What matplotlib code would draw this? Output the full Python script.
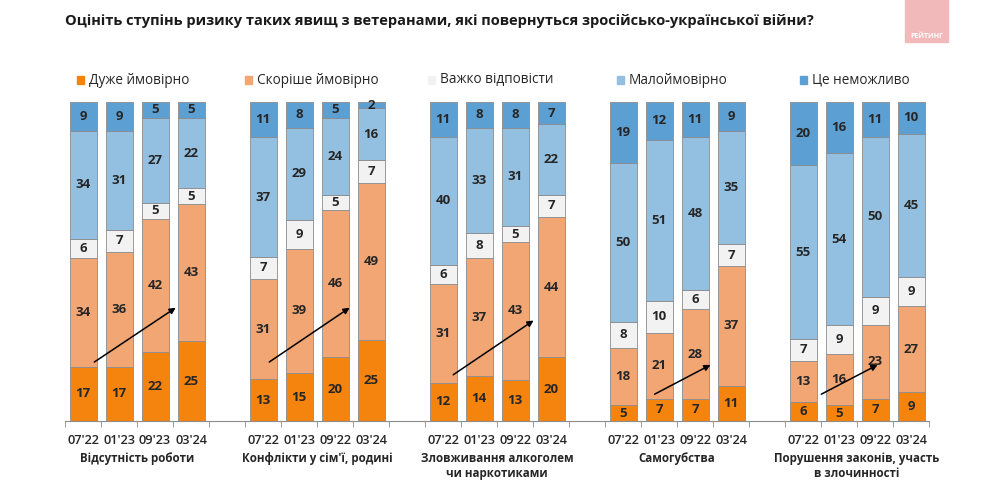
import matplotlib.pyplot as plt
import matplotlib.transforms as mtransforms
from matplotlib.patches import Rectangle
import numpy as np

plt.rcParams['font.family'] = ['Open Sans', 'DejaVu Sans']

title = "Оцініть ступінь ризику таких явищ з ветеранами, які повернуться зросійсько-української війни?"

categories = ["Відсутність роботи", "Конфлікти у сім'ї, родині",
              "Зловживання алкоголем\nчи наркотиками", "Самогубства",
              "Порушення законів, участь\nв злочинності"]
periods = [["07'22", "01'23", "09'23", "03'24"],
           ["07'22", "01'23", "09'22", "03'24"],
           ["07'22", "01'23", "09'22", "03'24"],
           ["07'22", "01'23", "09'22", "03'24"],
           ["07'22", "01'23", "09'22", "03'24"]]

series_names = ["Дуже ймовірно", "Скоріше ймовірно", "Важко відповісти",
                "Малоймовірно", "Це неможливо"]

very_likely = [[17, 17, 22, 25], [13, 15, 20, 25], [12, 14, 13, 20],
               [5, 7, 7, 11], [6, 5, 7, 9]]
rather_likely = [[34, 36, 42, 43], [31, 39, 46, 49], [31, 37, 43, 44],
                 [18, 21, 28, 37], [13, 16, 23, 27]]
hard_to_say = [[6, 7, 5, 5], [7, 9, 5, 7], [6, 8, 5, 7],
               [8, 10, 6, 7], [7, 9, 9, 9]]
unlikely = [[34, 31, 27, 22], [37, 29, 24, 16], [40, 33, 31, 22],
            [50, 51, 48, 35], [55, 54, 50, 45]]
impossible = [[9, 9, 5, 5], [11, 8, 5, 2], [11, 8, 8, 7],
              [19, 12, 11, 9], [20, 16, 11, 10]]

# trend arrows (start -> end), x relative to first bar of group, y in %
arrows = [((0.25, 18), (2.64, 36)), ((0.11, 18), (2.47, 36)),
          ((0.22, 14), (2.58, 32)), ((0.81, 8), (2.5, 18)),
          ((0.44, 8), (2.14, 18))]

colors = ["#F5840F", "#F2A673", "#F2F2F2", "#93C0E1", "#5C9FD2"]
legend_x = [0.077, 0.245, 0.428, 0.617, 0.800]

data = [very_likely, rather_likely, hard_to_say, unlikely, impossible]

fig = plt.figure(figsize=(10, 4.83), dpi=100)
ax = fig.add_axes([0.065, 1 - 421 / 483, 0.864, 319 / 483])

for g in range(len(categories)):
    x = g * 5 + np.arange(4)
    totals = np.sum([d[g] for d in data], axis=0)
    bottom = np.zeros(4)
    for s in range(len(data)):
        vals = np.array(data[s][g])
        h = vals / totals * 100
        ax.bar(x, h, bottom=bottom, width=0.75, color=colors[s],
               edgecolor="#8c8c8c", linewidth=0.6, zorder=2)
        for xi, b, hh, v in zip(x, bottom, h, vals):
            ax.text(xi, b + hh / 2, str(v), ha="center", va="center",
                    fontsize=9.5, fontweight="bold", color="#262626", zorder=3)
        bottom = bottom + h
    (x0, y0), (x1, y1) = arrows[g]
    ax.annotate("", xy=(g * 5 + x1, y1), xytext=(g * 5 + x0, y0),
                arrowprops=dict(arrowstyle="-|>", color="black", lw=1.1,
                                mutation_scale=9), zorder=4)

ax.set_xlim(-0.5, 23.5)
ax.set_ylim(0, 100)
for sp in ["top", "right", "left"]:
    ax.spines[sp].set_visible(False)
ax.spines["bottom"].set_color("#8c8c8c")
ax.set_yticks([])

pos = [g * 5 + i for g in range(5) for i in range(4)]
labels = [p for grp in periods for p in grp]
ax.set_xticks(pos)
ax.set_xticklabels(labels, fontsize=9.2, color="#262626", fontweight="semibold")
ax.tick_params(axis="x", which="major", length=0, pad=9)
ax.set_xticks(np.arange(-0.5, 24, 1), minor=True)
ax.tick_params(axis="x", which="minor", length=4, color="#8c8c8c")

trans = mtransforms.blended_transform_factory(ax.transData, ax.transAxes)
for g, name in enumerate(categories):
    ax.text(g * 5 + 1.5, -0.097, name, transform=trans, ha="center", va="top",
            fontsize=8.3, fontweight="bold", color="#262626", linespacing=1.25)

# legend
for name, c, lx in zip(series_names, colors, legend_x):
    fig.patches.append(Rectangle((lx, 1 - 84 / 483), 0.0072, 8 / 483,
                                 transform=fig.transFigure, color=c))
    fig.text(lx + 0.012, 1 - 80 / 483, name, fontsize=9.8, va="center",
             color="#262626")

fig.text(0.065, 1 - 21 / 483, title, fontsize=10.5, fontweight="bold",
         va="center", color="#1a1a1a")

# logo
fig.patches.append(Rectangle((0.905, 1 - 42 / 483), 0.043, 42 / 483,
                             transform=fig.transFigure, color="#F2B9BA"))
fig.text(0.9265, 1 - 36 / 483, "РЕЙТИНГ", fontsize=5, fontweight="bold",
         color="white", ha="center", va="center")

fig.savefig("out.png", dpi=100)
